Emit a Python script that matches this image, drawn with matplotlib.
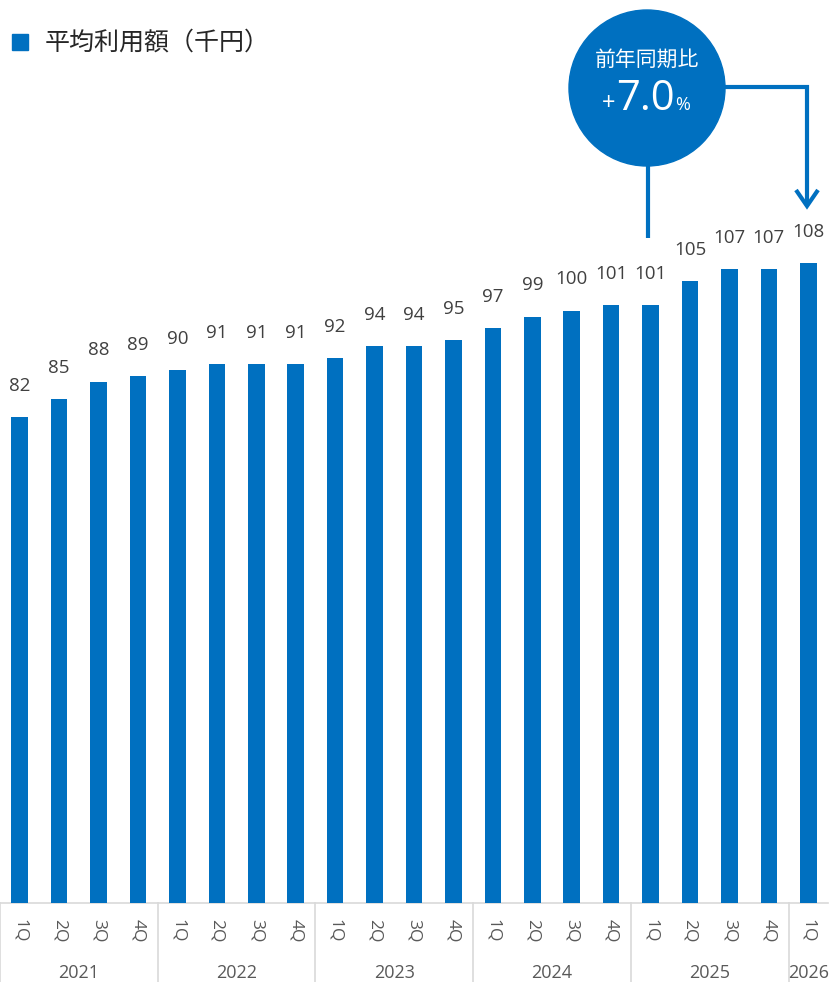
import matplotlib
matplotlib.use("Agg")
import matplotlib.pyplot as plt
from matplotlib.patches import Circle, Rectangle
import numpy as np

plt.rcParams['font.family'] = ['Open Sans', 'Noto Sans CJK JP', 'DejaVu Sans']

# Average usage amount per quarter (thousand yen)
quarters = ["1Q", "2Q", "3Q", "4Q"] * 5 + ["1Q"]
years = ["2021", "2022", "2023", "2024", "2025", "2026"]
year_counts = [4, 4, 4, 4, 4, 1]
values = [82, 85, 88, 89, 90, 91, 91, 91, 92, 94, 94, 95,
          97, 99, 100, 101, 101, 105, 107, 107, 108]
legend_label = "平均利用額（千円）"
yoy_title = "前年同期比"
yoy_value = "7.0"

BLUE = "#0070c0"
TEXT = "#404040"
GRID = "#d9d9d9"
CJK = ['Noto Sans CJK JP', 'DejaVu Sans']

W, H = 832, 982
fig = plt.figure(figsize=(W / 100, H / 100), dpi=100)

base_px = 902.5
ax = fig.add_axes([0.0, (H - base_px) / H, 828 / W, base_px / H])
x = np.arange(len(values))
ax.bar(x, values, width=0.42, color=BLUE, zorder=3)
ax.set_xlim(-0.5, len(values) - 0.5)
ax.set_ylim(0, 152.5)
for s in ["top", "right", "left"]:
    ax.spines[s].set_visible(False)
ax.spines["bottom"].set_color(GRID)
ax.spines["bottom"].set_linewidth(1.2)
ax.set_yticks([])
ax.set_xticks(x)
ax.set_xticklabels(quarters, rotation=-90, fontsize=12.5, color="#595959")
ax.tick_params(axis="x", length=0, pad=12)

# value labels above bars
for xi, v in zip(x, values):
    ax.annotate(str(v), (xi, v), xytext=(0, 22.5), textcoords="offset points",
                ha="center", va="center", fontsize=13.5, color=TEXT)

# year group separators and year labels
ybot = -(H - base_px) / base_px
trans = ax.get_xaxis_transform()
edges = np.concatenate([[0], np.cumsum(year_counts)]) - 0.5
for e in edges[:-1]:
    ax.plot([e, e], [0, ybot], transform=trans, color=GRID, lw=1.2, clip_on=False)
for i, yr in enumerate(years):
    c = (edges[i] + edges[i + 1]) / 2
    ax.text(c, -70 / base_px, yr, transform=trans, ha="center", va="center",
            fontsize=13, color="#595959")

# overlay in pixel coordinates for legend and callout
ov = fig.add_axes([0, 0, 1, 1], zorder=5)
ov.set_xlim(0, W)
ov.set_ylim(H, 0)
ov.axis("off")

ov.add_patch(Rectangle((12, 34), 16, 16, color=BLUE))
ov.text(45, 43, legend_label, fontsize=18, color="#262626", va="center",
        ha="left", family=CJK)

cx, cy, r = 647, 88, 78
ov.add_patch(Circle((cx, cy), r, color=BLUE))
ov.text(cx, 60, yoy_title, color="white", fontsize=15, ha="center",
        va="center", family=CJK)
ov.text(616, 110, yoy_value, color="white", fontsize=30, ha="left", va="baseline")
ov.text(615, 110, "+", color="white", fontsize=17, ha="right", va="baseline")
ov.text(675, 110, "%", color="white", fontsize=13, ha="left", va="baseline")

lw = 3
ov.plot([cx + 1, cx + 1], [cy + r - 2, 238], color=BLUE, lw=lw, solid_capstyle="butt")
ov.plot([cx + r - 2, 807, 807], [87, 87, 206], color=BLUE, lw=lw,
        solid_joinstyle="miter", solid_capstyle="butt")
ov.plot([796, 807, 818], [190, 206, 190], color=BLUE, lw=lw,
        solid_joinstyle="miter", solid_capstyle="butt")

fig.savefig("out.png", dpi=100)
